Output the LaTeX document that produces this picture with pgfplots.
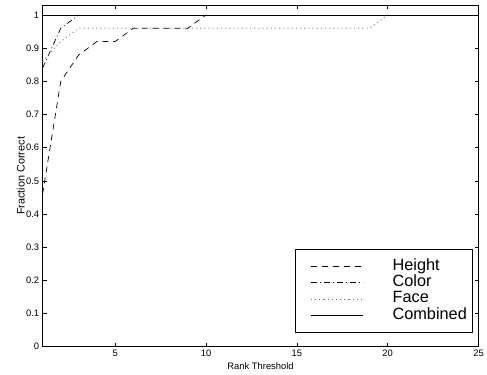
\documentclass[border=0pt]{standalone}
\usepackage{pgfplots}
\pgfplotsset{compat=1.18}
\usepackage{fontspec}
\setmainfont{Liberation Sans}
\begin{document}
\begin{tikzpicture}[x=1bp,y=1bp]
\begin{axis}[
  name=ax,
  scale only axis,
  width=440bp, height=345bp,
  xmin=1, xmax=25, ymin=0, ymax=1.03,
  xtick={5,10,15,20,25},
  ytick={0,0.1,0.2,0.3,0.4,0.5,0.6,0.7,0.8,0.9,1},
  yticklabels={0,0.1,0.2,0.3,0.4,0.5,0.6,0.7,0.8,0.9,1},
  tick align=inside,
  tick pos=both,
  major tick length=4bp,
  axis line style={line width=0.9pt},
  tick style={line width=0.6pt, black},
  /pgf/number format/assume math mode=true,
  tick label style={font=\fontsize{9.5}{11}\selectfont},
  xlabel={Rank Threshold},
  ylabel={Fraction Correct},
  xlabel style={at={(axis description cs:0.5,-0.0667)}, anchor=base, font=\fontsize{9.5}{11}\selectfont},
  ylabel style={at={(axis description cs:-0.041,0.5)}, anchor=base, font=\fontsize{11}{12}\selectfont},
  legend cell align=left,
  legend style={
    at={(0.988,0.04)}, anchor=south east,
    draw=black, line width=1pt,
    font=\fontsize{16.5}{16.5}\selectfont,
    inner xsep=4bp, inner ysep=9bp,
    row sep=0bp,
    nodes={inner ysep=0bp, text height=12bp, text depth=4.5bp},
    /tikz/every odd column/.append style={column sep=28bp},
  },
  legend image code/.code={\path (0bp,0bp); \draw[#1] (11bp,0bp) -- (63bp,0bp);},
]
\addplot[black, line width=0.7pt, dash pattern=on 6bp off 5bp] coordinates {
 (1,0.46) (2,0.80) (3,0.88) (4,0.92) (5,0.92) (6,0.96) (7,0.96) (8,0.96) (9,0.96) (10,1.0)};
\addlegendentry{Height}
\addplot[black, line width=0.7pt, dash pattern=on 6bp off 3bp on 1bp off 3bp] coordinates {
 (1,0.84) (2,0.96) (3,1.0)};
\addlegendentry{Color}
\addplot[black!55, line width=0.7pt, dash pattern=on 1.2bp off 3bp] coordinates {
 (1,0.86) (2,0.92) (3,0.96) (4,0.96) (5,0.96) (6,0.96) (7,0.96) (8,0.96) (9,0.96) (10,0.96)
 (11,0.96) (12,0.96) (13,0.96) (14,0.96) (15,0.96) (16,0.96) (17,0.96) (18,0.96) (19,0.96) (20,1.0)};
\addlegendentry{Face}
\addplot[black, line width=0.8pt] coordinates {
 (1,1) (2,1) (3,1) (4,1) (5,1) (6,1) (7,1) (8,1) (9,1) (10,1)
 (11,1) (12,1) (13,1) (14,1) (15,1) (16,1) (17,1) (18,1) (19,1) (20,1) (21,1) (22,1) (23,1) (24,1) (25,1)};
\addlegendentry{Combined}
\end{axis}
\path (ax.south west) ++(-43bp,-28bp);
\path (ax.north east) ++(4bp,5bp);
\end{tikzpicture}
\end{document}
